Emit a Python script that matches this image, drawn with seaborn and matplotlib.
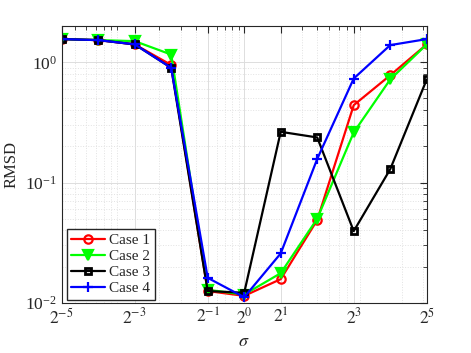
import numpy as np
import seaborn as sns
import matplotlib.pyplot as plt
from matplotlib.ticker import FixedLocator, FixedFormatter, LogLocator, NullFormatter

sigma = [2.0 ** k for k in range(-5, 6)]

case1 = [1.56, 1.53, 1.41, 0.95, 0.0125, 0.0114, 0.0157, 0.0487, 0.44, 0.78, 1.41]
case2 = [1.56, 1.53, 1.50, 1.16, 0.0128, 0.0117, 0.0176, 0.050, 0.261, 0.72, 1.41]
case3 = [1.56, 1.53, 1.41, 0.90, 0.0125, 0.0121, 0.264, 0.237, 0.0394, 0.129, 0.72]
case4 = [1.56, 1.53, 1.41, 0.90, 0.0161, 0.0111, 0.0257, 0.157, 0.733, 1.39, 1.56]

labels = ["Case 1", "Case 2", "Case 3", "Case 4"]
colors = ["#ff0000", "#00ff00", "#000000", "#0000ff"]
markers = ["o", "v", "s", "+"]
msizes = [6, 7, 5, 7]

xticks = [2.0 ** k for k in [-5, -3, -1, 0, 1, 3, 5]]
xtick_labels = [r"$2^{-5}$", r"$2^{-3}$", r"$2^{-1}$", r"$2^{0}$", r"$2^{1}$", r"$2^{3}$", r"$2^{5}$"]

sns.set_style("white")
plt.rcParams["font.family"] = ["Liberation Serif", "DejaVu Serif"]
plt.rcParams["mathtext.fontset"] = "stix"

fig = plt.figure(figsize=(4.71, 3.53), dpi=100)
ax = fig.add_axes([0.131, 0.1425, 0.775, 0.7835])

# open circle, filled triangle, thick-edged square, plus
for y, lab, c, m, ms in zip([case1, case2, case3, case4], labels, colors, markers, msizes):
    mfc = c if m in ("v", "+") else "none"
    sns.lineplot(x=sigma, y=y, ax=ax, color=c, marker=m, label=lab,
                 linewidth=1.6, markersize=ms, mfc=mfc, mec=c,
                 mew=2.0 if m == "s" else 1.6)

ax.set_xscale("log")
ax.set_yscale("log")
ax.set_xlim(2.0 ** -5, 2.0 ** 5)
ax.set_ylim(0.01, 2.0)

ax.xaxis.set_major_locator(FixedLocator(xticks))
ax.xaxis.set_major_formatter(FixedFormatter(xtick_labels))
ax.xaxis.set_minor_locator(LogLocator(base=10, subs=np.arange(2, 10), numticks=20))
ax.xaxis.set_minor_formatter(NullFormatter())
ax.yaxis.set_major_locator(LogLocator(base=10, numticks=10))
ax.yaxis.set_minor_locator(LogLocator(base=10, subs=np.arange(2, 10), numticks=20))
ax.yaxis.set_minor_formatter(NullFormatter())

ax.grid(True, which="major", color="#dddddd", linewidth=0.7)
ax.grid(True, which="minor", color="#e2e2e2", linestyle=":", linewidth=0.7)
ax.tick_params(which="both", direction="in", top=True, right=True, colors="#262626",
               labelsize=12.5, length=3)
ax.tick_params(which="major", length=5)
for s in ax.spines.values():
    s.set_color("#262626")
    s.set_linewidth(0.8)

ax.set_xlabel(r"$\sigma$", fontsize=13)
ax.set_ylabel("RMSD", fontsize=12)

ax.legend(loc="lower left", bbox_to_anchor=(0.005, 0.0), fontsize=11, frameon=True,
          fancybox=False, edgecolor="#262626", framealpha=1, handlelength=2.2,
          borderpad=0.3, labelspacing=0.15, handletextpad=0.3, borderaxespad=0.2)

plt.savefig("out.png", dpi=100)
